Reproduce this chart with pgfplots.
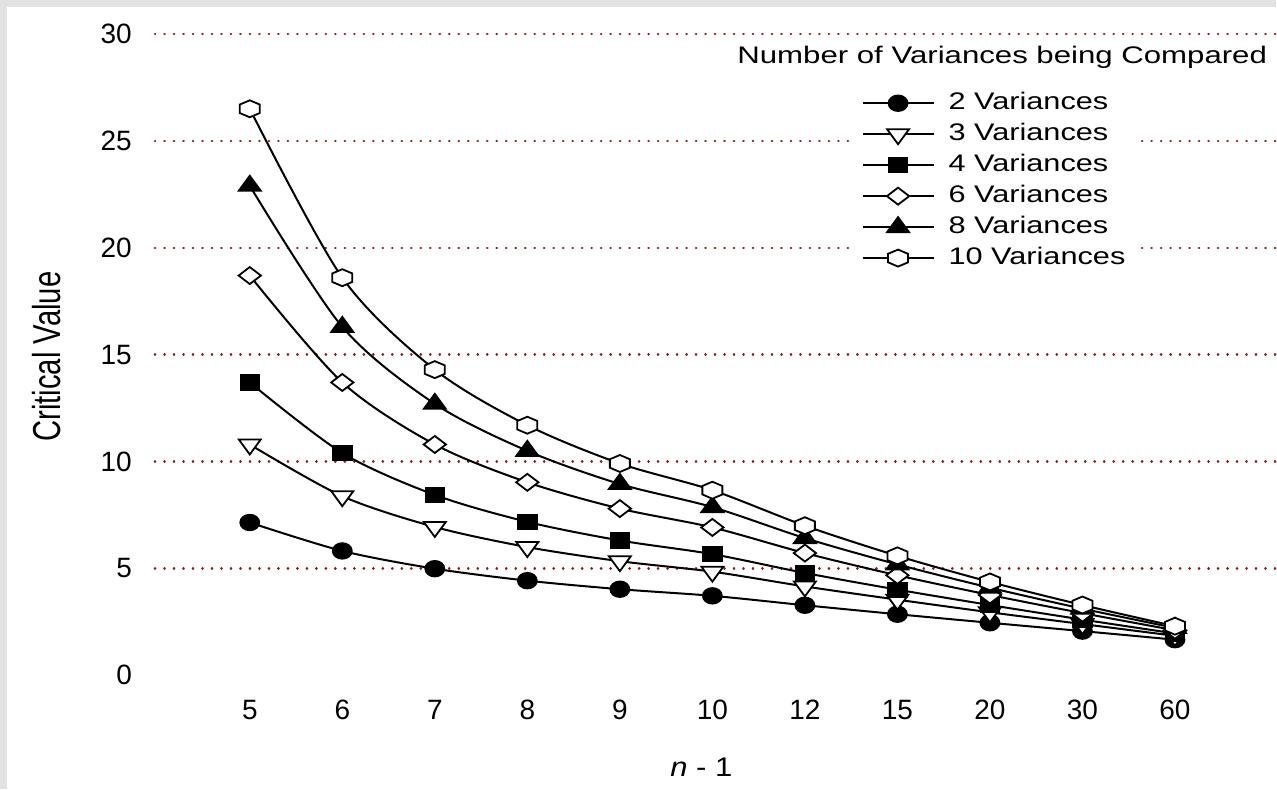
\documentclass[border=0pt]{standalone}
\usepackage{pgfplots}
\pgfplotsset{compat=1.18}
\usepackage{fontspec}
\setmainfont{Liberation Sans}
\usepackage{graphicx}

\definecolor{gridred}{RGB}{140,30,30}
\definecolor{bgray}{RGB}{226,226,226}

% pointy-top hexagon mark
\pgfdeclareplotmark{hexagon}{%
  \pgfpathmoveto{\pgfqpoint{0pt}{\pgfplotmarksize}}%
  \pgfpathlineto{\pgfqpoint{0.866\pgfplotmarksize}{0.5\pgfplotmarksize}}%
  \pgfpathlineto{\pgfqpoint{0.866\pgfplotmarksize}{-0.5\pgfplotmarksize}}%
  \pgfpathlineto{\pgfqpoint{0pt}{-\pgfplotmarksize}}%
  \pgfpathlineto{\pgfqpoint{-0.866\pgfplotmarksize}{-0.5\pgfplotmarksize}}%
  \pgfpathlineto{\pgfqpoint{-0.866\pgfplotmarksize}{0.5\pgfplotmarksize}}%
  \pgfpathclose
  \pgfusepathqfillstroke}

\newcommand{\wide}[1]{\scalebox{1.28}[1]{#1}}

\begin{document}
\begin{tikzpicture}
\fill[bgray] (0,0) rectangle (638.5pt,-395pt);
\fill[white] (3.5pt,-3.5pt) rectangle (638.5pt,-395pt);
\begin{axis}[
    at={(77.5pt,-338pt)}, anchor=south west,
    scale only axis, width=561pt, height=321pt,
    xmin=-1.026, xmax=11.09, ymin=0, ymax=30,
    axis line style={draw=none}, tick style={draw=none},
    xtick={0,...,10},
    xticklabels={5,6,7,8,9,10,12,15,20,30,60},
    ytick={5,10,...,30},
    extra y ticks={0}, extra y tick style={grid=none},
    ymajorgrids,
    major grid style={gridred, line width=1.2pt, line cap=round, dash pattern=on 0.2pt off 4.55pt},
    /pgf/number format/assume math mode=true,
    ticklabel style={font=\fontsize{14}{15}\selectfont},
    yticklabel style={xshift=-8pt},
    xticklabel style={yshift=-9pt},
    xlabel={\scalebox{1.15}[1]{\textit{n} - 1}},
    xlabel style={at={(rel axis cs:0.4875,0)}, anchor=center, yshift=-46pt, font=\fontsize{13.5}{14}\selectfont},
    ylabel={\scalebox{0.75}[1]{Critical Value}},
    ylabel style={at={(rel axis cs:-0.0963,0.497)}, anchor=center, rotate=0, font=\fontsize{19.5}{20}\selectfont},
    every axis plot/.append style={black, line width=1pt, smooth, tension=0.5},
    legend cell align=left,
    legend style={at={(rel axis cs:0.623,0.923)}, anchor=north west, draw=none, fill=white,
        inner xsep=4pt, inner ysep=2pt, row sep=0pt,
        font=\fontsize{12}{13}\selectfont,
        nodes={inner sep=2pt, text height=9pt, text depth=2.5pt},
        /tikz/every odd column/.append style={column sep=5pt}},
    legend image code/.code={\draw[mark repeat=2, mark phase=2] plot coordinates {(0pt,0pt) (17.75pt,0pt) (35.5pt,0pt)};},
]
% 2 variances
\addplot[mark=*, mark size=3.9pt, mark options={solid, fill=black, xscale=1.22, line width=0.9pt}]
  coordinates {(0,7.15) (1,5.82) (2,4.99) (3,4.43) (4,4.03) (5,3.72) (6,3.28) (7,2.86) (8,2.46) (9,2.07) (10,1.67)};
\addlegendentry{\wide{2 Variances}}
% 3 variances
\addplot[mark=triangle*, mark size=5pt, mark options={solid, fill=white, rotate=180, xscale=1.27, line width=0.9pt}]
  coordinates {(0,10.8) (1,8.38) (2,6.94) (3,6.00) (4,5.34) (5,4.85) (6,4.16) (7,3.54) (8,2.95) (9,2.40) (10,1.85)};
\addlegendentry{\wide{3 Variances}}
% 4 variances
\addplot[mark=square*, mark size=3.6pt, mark options={solid, fill=black, xscale=1.3, line width=0.9pt}]
  coordinates {(0,13.7) (1,10.4) (2,8.44) (3,7.18) (4,6.31) (5,5.67) (6,4.79) (7,4.01) (8,3.29) (9,2.61) (10,1.96)};
\addlegendentry{\wide{4 Variances}}
% 6 variances
\addplot[mark=diamond*, mark size=4.25pt, mark options={solid, fill=white, xscale=1.75, line width=0.9pt}]
  coordinates {(0,18.7) (1,13.7) (2,10.8) (3,9.03) (4,7.80) (5,6.92) (6,5.72) (7,4.68) (8,3.76) (9,2.91) (10,2.11)};
\addlegendentry{\wide{6 Variances}}
% 8 variances
\addplot[mark=triangle*, mark size=5pt, mark options={solid, fill=black, xscale=1.27, line width=0.9pt}]
  coordinates {(0,22.9) (1,16.3) (2,12.7) (3,10.5) (4,8.95) (5,7.87) (6,6.42) (7,5.19) (8,4.10) (9,3.12) (10,2.22)};
\addlegendentry{\wide{8 Variances}}
% 10 variances
\addplot[mark=hexagon, mark size=4.25pt, mark options={solid, fill=white, xscale=1.36, line width=0.9pt}]
  coordinates {(0,26.5) (1,18.6) (2,14.3) (3,11.7) (4,9.91) (5,8.66) (6,7.00) (7,5.59) (8,4.37) (9,3.29) (10,2.30)};
\addlegendentry{\wide{10 Variances}}
\node[anchor=east, inner sep=0pt, font=\fontsize{12}{13}\selectfont] at (rel axis cs:0.9925,0.963) {\scalebox{1.3}[1]{Number of Variances being Compared}};
\end{axis}
\end{tikzpicture}
\end{document}
